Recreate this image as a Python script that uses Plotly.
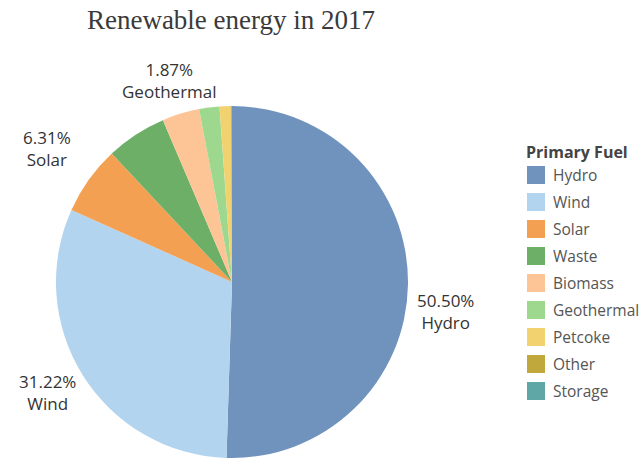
import plotly.graph_objects as go

# Share of renewable generation by primary fuel, 2017 (%)
fuels = ["Hydro", "Wind", "Solar", "Waste", "Biomass", "Geothermal", "Petcoke", "Other", "Storage"]
shares = [50.50, 31.22, 6.31, 5.55, 3.42, 1.87, 1.03, 0.07, 0.03]
colors = ["#7093be", "#b3d4ee", "#f4a052", "#6daf67", "#fdc596",
          "#9ed88f", "#f2d16f", "#c1a83c", "#5fa6a7"]

# Slices that carry an outside label, with their label anchor (paper coords)
labelled = {
    "Hydro": (0.691, 0.323),
    "Wind": (0.073, 0.146),
    "Solar": (0.073, 0.677),
    "Geothermal": (0.263, 0.826),
}

W, H = 644, 460
cx, cy, r = 232, 282, 176

fig = go.Figure(go.Pie(
    labels=fuels,
    values=shares,
    sort=False,
    direction="clockwise",
    rotation=0,
    marker=dict(colors=colors, line=dict(width=0)),
    textinfo="none",
    hoverinfo="label+percent",
    showlegend=False,
    domain=dict(x=[(cx - r) / W, (cx + r) / W],
                y=[max(0, (H - cy - r) / H), (H - cy + r) / H]),
))

label_font = dict(family="Open Sans, sans-serif", size=17, color="#333333")
for name, (x, y) in labelled.items():
    v = shares[fuels.index(name)]
    fig.add_annotation(x=x, y=y, xref="paper", yref="paper",
                       text=f"{v:.2f}%<br>{name}", showarrow=False,
                       font=label_font, align="center",
                       xanchor="center", yanchor="middle")

# Legend: title plus a colour swatch and name for each fuel
lg_x0, lg_top, step, sq = 527, 175, 27, 18
fig.add_annotation(x=(lg_x0 - 3) / W, y=1 - 152 / H, xref="paper", yref="paper",
                   text="<b>Primary Fuel</b>", showarrow=False,
                   font=dict(family="Open Sans, sans-serif", size=16, color="#444444"),
                   xanchor="left", yanchor="middle")
for i, (name, col) in enumerate(zip(fuels, colors)):
    yc = lg_top + i * step
    fig.add_shape(type="rect", xref="paper", yref="paper",
                  x0=lg_x0 / W, x1=(lg_x0 + sq) / W,
                  y0=1 - (yc + sq / 2) / H, y1=1 - (yc - sq / 2) / H,
                  fillcolor=col, line=dict(width=0))
    fig.add_annotation(x=(lg_x0 + sq + 6) / W, y=1 - yc / H, xref="paper", yref="paper",
                       text=name, showarrow=False,
                       font=dict(family="Open Sans, sans-serif", size=15.5, color="#555555"),
                       xanchor="left", yanchor="middle")

fig.update_layout(
    width=W, height=H,
    margin=dict(l=0, r=0, t=0, b=0),
    paper_bgcolor="white",
    plot_bgcolor="white",
    title=dict(text="Renewable energy in 2017", x=231 / W, xanchor="center",
               y=1 - 20 / H, yanchor="middle",
               font=dict(family="Liberation Serif, Times New Roman, serif",
                         size=27, color="#3a3a3a")),
)

fig.write_html("out.html")
